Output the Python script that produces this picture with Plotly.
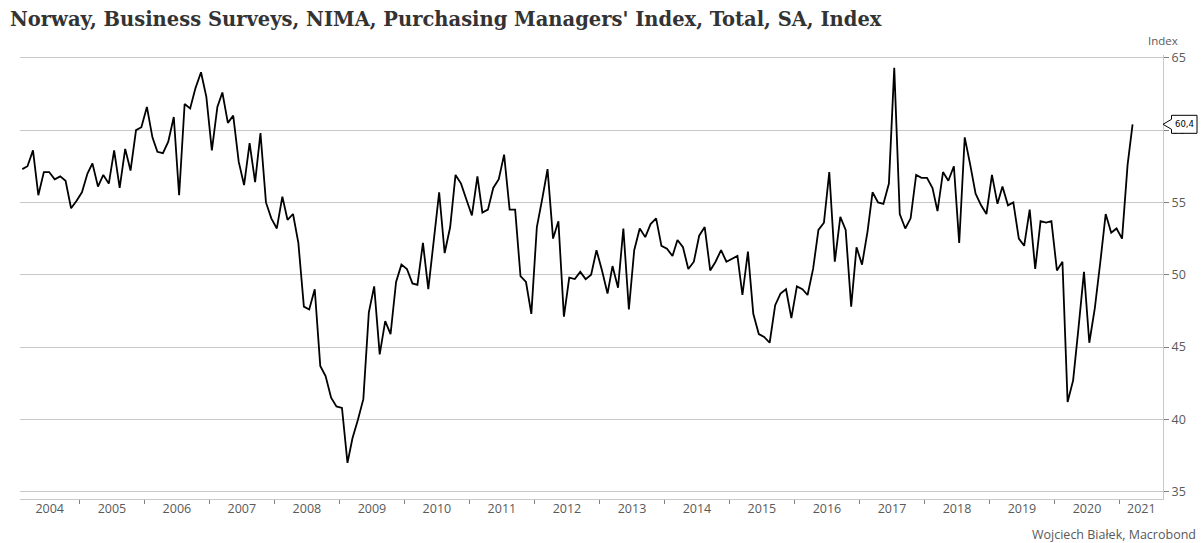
import pandas as pd
import plotly.graph_objects as go

# Monthly PMI values (first observation: Feb 2004, last: Mar 2021)
y2004 = [57.3, 57.5, 58.6, 55.5, 57.1, 57.1, 56.6, 56.8, 56.5, 54.6, 55.1]
y2005 = [55.7, 57.0, 57.7, 56.1, 56.9, 56.3, 58.6, 56.0, 58.7, 57.2, 60.0, 60.2]
y2006 = [61.6, 59.5, 58.5, 58.4, 59.2, 60.9, 55.5, 61.8, 61.5, 62.9, 64.0, 62.3]
y2007 = [58.6, 61.6, 62.6, 60.5, 61.0, 57.8, 56.2, 59.1, 56.4, 59.8, 55.0, 53.9]
y2008 = [53.2, 55.4, 53.8, 54.2, 52.2, 47.8, 47.6, 49.0, 43.7, 43.0, 41.5, 40.9]
y2009 = [40.8, 37.0, 38.7, 40.0, 41.4, 47.4, 49.2, 44.5, 46.8, 45.9, 49.5, 50.7]
y2010 = [50.4, 49.4, 49.3, 52.2, 49.0, 52.4, 55.7, 51.5, 53.3, 56.9, 56.3, 55.2]
y2011 = [54.1, 56.8, 54.3, 54.5, 56.0, 56.6, 58.3, 54.5, 54.5, 49.9, 49.5, 47.3]
y2012 = [53.3, 55.3, 57.3, 52.5, 53.7, 47.1, 49.8, 49.7, 50.2, 49.7, 50.0, 51.7]
y2013 = [50.3, 48.7, 50.6, 49.1, 53.2, 47.6, 51.7, 53.2, 52.6, 53.5, 53.9, 52.0]
y2014 = [51.8, 51.3, 52.4, 51.9, 50.4, 50.9, 52.7, 53.3, 50.3, 50.9, 51.7, 50.9]
y2015 = [51.1, 51.3, 48.6, 51.6, 47.3, 45.9, 45.7, 45.3, 47.9, 48.7, 49.0, 47.0]
y2016 = [49.2, 49.0, 48.6, 50.4, 53.1, 53.6, 57.1, 50.9, 54.0, 53.1, 47.8, 51.9]
y2017 = [50.7, 53.0, 55.7, 55.0, 54.9, 56.3, 64.3, 54.2, 53.2, 53.9, 56.9, 56.7]
y2018 = [56.7, 56.0, 54.4, 57.1, 56.5, 57.5, 52.2, 59.5, 57.6, 55.6, 54.8, 54.2]
y2019 = [56.9, 54.9, 56.1, 54.8, 55.0, 52.5, 52.0, 54.5, 50.4, 53.7, 53.6, 53.7]
y2020 = [50.3, 50.9, 41.2, 42.7, 46.3, 50.2, 45.3, 47.7, 50.9, 54.2, 52.9, 53.2]
y2021 = [52.5, 57.6, 60.4]

values = (y2004 + y2005 + y2006 + y2007 + y2008 + y2009 + y2010 + y2011 + y2012
          + y2013 + y2014 + y2015 + y2016 + y2017 + y2018 + y2019 + y2020 + y2021)
dates = pd.date_range("2004-02-01", periods=len(values), freq="MS") + pd.Timedelta(days=14)

years = list(range(2004, 2022))
x_start = pd.Timestamp("2004-02-02")
x_end = pd.Timestamp("2021-09-02")

# year boundary ticks and centered year labels (centered in visible part of each year)
tick_bounds = [pd.Timestamp(f"{y}-01-01") for y in years[1:]]
label_pos, label_txt = [], []
for y in years:
    a = max(pd.Timestamp(f"{y}-01-01"), x_start)
    b = min(pd.Timestamp(f"{y + 1}-01-01"), x_end)
    label_pos.append(a + (b - a) / 2)
    label_txt.append(str(y))

GRAY_TXT = "#595959"
GRID = "#c8c8c8"

fig = go.Figure()
fig.add_trace(go.Scatter(x=dates, y=values, mode="lines",
                         line=dict(color="black", width=1.8), showlegend=False,
                         hoverinfo="skip"))
# invisible trace for the label axis
fig.add_trace(go.Scatter(x=[dates[0]], y=[values[0]], xaxis="x2", mode="markers",
                         marker=dict(opacity=0), showlegend=False, hoverinfo="skip"))

fig.update_layout(
    width=1203, height=543,
    margin=dict(l=20, r=40, t=55, b=44),
    paper_bgcolor="white", plot_bgcolor="white",
    title=dict(text="<b>Norway, Business Surveys, NIMA, Purchasing Managers' Index, Total, SA, Index</b>",
               x=10 / 1203, xanchor="left", y=1 - 19 / 543, yanchor="middle",
               font=dict(family="DejaVu Serif", size=19.5, color="#333333")),
    xaxis=dict(type="date", range=[x_start, x_end], tickvals=tick_bounds,
               showticklabels=False, ticks="outside", ticklen=4, tickcolor="#7f7f7f",
               showgrid=False, showline=True, linecolor=GRID, linewidth=1, zeroline=False),
    xaxis2=dict(type="date", range=[x_start, x_end], overlaying="x", side="bottom",
                tickvals=label_pos, ticktext=label_txt, ticks="", showgrid=False,
                showline=False, zeroline=False,
                tickfont=dict(family="Open Sans", size=12.5, color=GRAY_TXT)),
    yaxis=dict(side="right", range=[34.5, 65.19], tickvals=[35, 40, 45, 50, 55, 60, 65],
               ticks="outside", ticklen=5, tickcolor="#7f7f7f",
               showgrid=True, gridcolor=GRID, gridwidth=1,
               showline=True, linecolor=GRID, linewidth=1, zeroline=False,
               tickfont=dict(family="Open Sans", size=12.5, color=GRAY_TXT)),
)

fig.add_annotation(text="Index", xref="paper", yref="paper", x=1, y=1, xanchor="center",
                   yanchor="middle", yshift=15, showarrow=False,
                   font=dict(family="Open Sans", size=11.5, color=GRAY_TXT))
fig.add_annotation(text="Wojciech Białek, Macrobond", xref="paper", yref="paper",
                   x=1, y=0, xanchor="right", yanchor="middle", xshift=35, yshift=-35,
                   showarrow=False, font=dict(family="Open Sans", size=12.5, color=GRAY_TXT))

last_val = values[-1]
fig.add_shape(type="path", xref="paper", yref="y", xsizemode="pixel", ysizemode="pixel",
              xanchor=1, yanchor=last_val,
              path="M 0 0 L 8.5 5 L 8.5 9 L 34 9 L 34 -9 L 8.5 -9 L 8.5 -5 Z",
              fillcolor="white", line=dict(color="black", width=1), layer="above")
fig.add_annotation(text=f"{last_val:.1f}".replace(".", ","), xref="paper", yref="y",
                   x=1, y=last_val, xanchor="center", yanchor="middle", xshift=21.5,
                   showarrow=False, font=dict(family="DejaVu Sans", size=8.5, color="black"))

fig.write_html("out.html")
